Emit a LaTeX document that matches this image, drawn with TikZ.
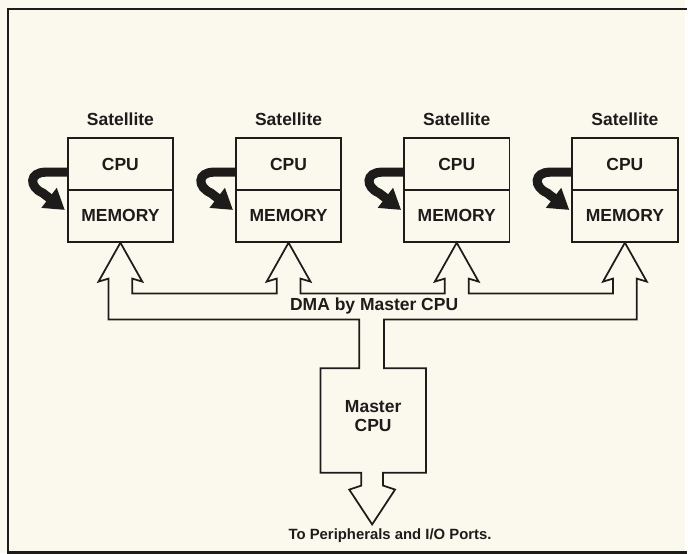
\documentclass[tikz,border=0pt]{standalone}
\usepackage{fontspec}
\setmainfont{Liberation Sans}
\usepackage{tikz}
\usetikzlibrary{arrows.meta}
\definecolor{paper}{RGB}{251,249,238}
\definecolor{ink}{RGB}{30,28,26}
\begin{document}
\begin{tikzpicture}[x=0.02cm,y=-0.02cm,
  unit/.style={draw=ink,line width=1pt,minimum width=2.12cm,minimum height=1.04cm,font=\bfseries,text=ink},
  tag/.style={font=\bfseries,text=ink},
  feed/.style={ink,line width=5.2pt,-{Triangle[length=0.4cm,width=0.48cm]}},
  bus/.style={ink,line width=1pt,line join=miter}]
 \pgfmathsetmacro{\yi}{295}
 \pgfmathsetmacro{\yo}{321}
 \pgfmathsetmacro{\yb}{283}
 \pgfmathsetmacro{\yn}{280}
 \fill[paper] (0,0) rectangle (688,556);
 \draw[ink,line width=1.6pt] (690,9) -- (8,9) -- (8,555) -- (690,555);

 \foreach \i/\cx in {1/121,2/290,3/459,4/628}{
  \node[tag] (sat\i) at (\cx,120) {Satellite};
  \node[unit] (cpu\i) at (\cx,165) {CPU};
  \node[unit] (mem\i) at (\cx,217) {MEMORY};
  \draw[feed] ([yshift=-0.16cm]cpu\i.west) -- (\cx-75,173)
     .. controls (\cx-92,173) and (\cx-92,188) .. (\cx-78,194)
     -- ([xshift=-0.04cm,yshift=0.12cm]mem\i.west);
}

 \node[tag] (dma) at (376,307) {DMA by Master CPU};
 \node[tag,align=center] (master) at (375,418) {Master\\[-1pt]CPU};
 \node[tag,font=\bfseries\fontsize{8.5}{10}\selectfont] (io) at (392,538) {To Peripherals and I/O Ports.};

 \draw[bus] (133,\yi) -- (133,\yn) -- (143,\yb) -- (mem1.south) -- (99,\yb) -- (109,\yn)
  -- (109,\yo) -- (361,\yo) -- (361,370) -- (322,370) -- (322,475) -- (363,475)
  -- (363,488) -- (351,492) -- (374,527) -- (397,492) -- (385,488) -- (385,475)
  -- (428,475) -- (428,370) -- (386,370) -- (386,\yo) -- (640,\yo)
  -- (640,\yn) -- (650,\yb) -- (mem4.south) -- (606,\yb) -- (616,\yn) -- (616,\yi)
  -- (471,\yi) -- (471,\yn) -- (481,\yb) -- (mem3.south) -- (437,\yb) -- (447,\yn) -- (447,\yi)
  -- (302,\yi) -- (302,\yn) -- (312,\yb) -- (mem2.south) -- (268,\yb) -- (278,\yn) -- (278,\yi)
  -- cycle;
\end{tikzpicture}
\end{document}
